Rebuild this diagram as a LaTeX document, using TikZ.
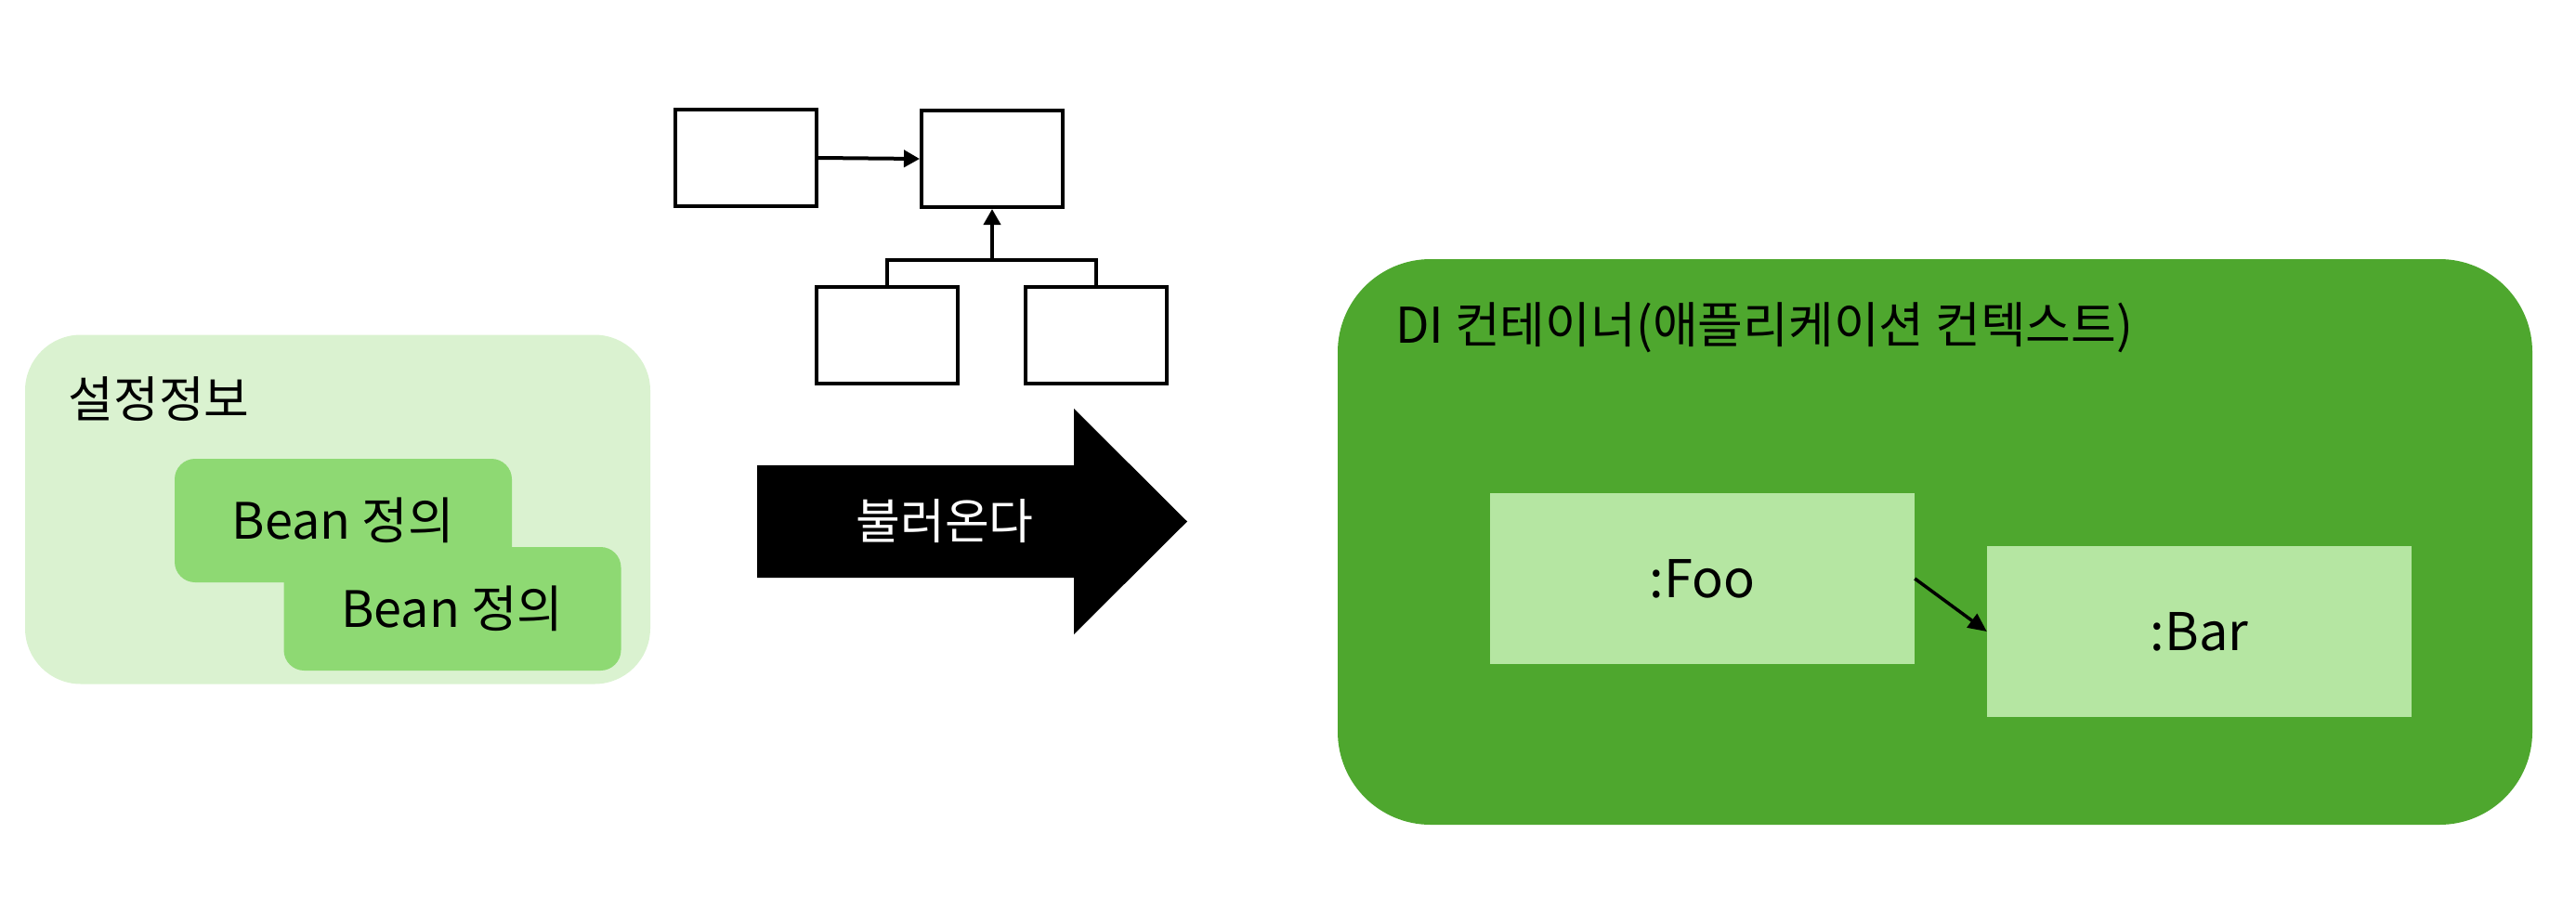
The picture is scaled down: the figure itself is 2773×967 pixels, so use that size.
\documentclass[tikz,border=0pt]{standalone}
\usepackage{fontspec}
\setmainfont{Noto Sans CJK KR}
\usetikzlibrary{arrows.meta}
\definecolor{cfgbg}{HTML}{DAF2D0}
\definecolor{beanbg}{HTML}{8ED973}
\definecolor{ctxbg}{HTML}{4EA72E}
\definecolor{objbg}{HTML}{B5E6A2}
\tikzset{
  minibox/.style={draw=black, line width=4pt, fill=white, inner sep=0pt,
    minimum width=152pt, minimum height=104pt},
  miniline/.style={draw=black, line width=4pt, line join=miter},
  minitip/.style={-{Triangle[length=17pt,width=18pt]}},
  cfgbox/.style={fill=cfgbg, rounded corners=60pt, inner sep=0pt,
    minimum width=673pt, minimum height=376pt},
  beanbox/.style={fill=beanbg, rounded corners=22pt, inner sep=0pt,
    minimum width=363pt, minimum height=133pt, font=\fontsize{54}{60}\selectfont},
  ctxbox/.style={fill=ctxbg, rounded corners=100pt, inner sep=0pt,
    minimum width=1286pt, minimum height=609pt},
  objbox/.style={fill=objbg, inner sep=0pt, minimum width=457pt,
    minimum height=184pt, font=\fontsize{56}{62}\selectfont},
  hangultxt/.style={inner sep=0pt, font=\fontsize{53}{60}\selectfont},
  titletxt/.style={inner sep=0pt, font=\fontsize{53}{60}\selectfont},
  objarrow/.style={draw=black, line width=3.5pt, -{Triangle[length=20pt,width=18pt]}}
}
\begin{document}
\begin{tikzpicture}[x=1pt,y=-1pt]
\useasboundingbox (0,0) rectangle (2773,967);

% left: configuration
\node[cfgbox] (cfg) at (363.5,548.5) {};
\node[hangultxt, anchor=center] (cfgtitle) at (171,430) {설정정보};
\node[beanbox] (bean1) at (369.5,560.5) {Bean 정의};
\node[beanbox] (bean2) at (487,655.5) {Bean 정의};

% small class diagram
\node[minibox] (A) at (802.5,170) {};
\node[minibox] (B) at (1068,171) {};
\node[minibox] (C) at (955,360.5) {};
\node[minibox] (D) at (1179.5,360.5) {};
\coordinate (fork) at (1068,280);
\draw[miniline, minitip] (A.east) -- (B.west);
\draw[miniline] (C.north) |- (fork) -| (D.north);
\draw[miniline, minitip] (fork) -- (B.south);

% big arrow
\fill[black] (815,501) -- (1156,501) -- (1156,440) -- (1278,561.5)
  -- (1156,683) -- (1156,622) -- (815,622) -- cycle;
\node[hangultxt, text=white, font=\fontsize{52}{60}\selectfont] (load) at (1017,561) {불러온다};

% right: DI container
\node[ctxbox] (ctx) at (2083,583.5) {};
\node[titletxt, anchor=base west] (ctxtitle) at (1502,369) {DI 컨테이너(애플리케이션 컨텍스트)};
\node[objbox] (foo) at (1832.5,623) {:Foo};
\node[objbox] (bar) at (2367.5,680) {:Bar};
\draw[objarrow] (foo.east) -- (bar.west);
\end{tikzpicture}
\end{document}
